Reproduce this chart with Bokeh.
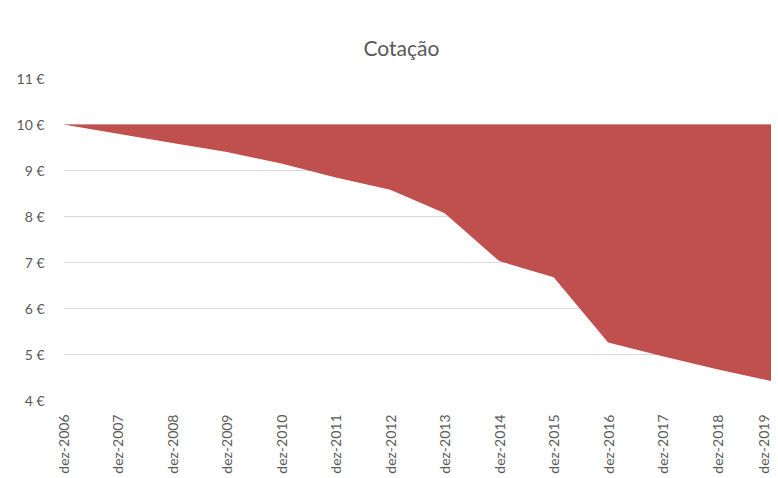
from bokeh.plotting import figure
from bokeh.models import Range1d, FixedTicker, BoxAnnotation
from bokeh.embed import file_html
from bokeh.resources import INLINE
import math

title = "Cotação"
categories = ["dez-2006", "dez-2007", "dez-2008", "dez-2009", "dez-2010", "dez-2011", "dez-2012",
              "dez-2013", "dez-2014", "dez-2015", "dez-2016", "dez-2017", "dez-2018", "dez-2019"]
cotacao = [10.0, 9.8, 9.6, 9.4, 9.15, 8.85, 8.58, 8.07, 7.03, 6.68, 5.26, 4.96, 4.68, 4.42]
axis_cross = 10  # horizontal axis crosses at 10 €
y_ticks = [4, 5, 6, 7, 8, 9, 10, 11]
y_labels = ["4 €", "5 €", "6 €", "7 €", "8 €", "9 €", "10 €", "11 €"]

xs = list(range(len(categories)))

p = figure(width=771, height=476, output_backend="svg", toolbar_location=None,
           x_range=Range1d(0, len(categories) - 1), y_range=Range1d(4, 11),
           min_border_left=63, min_border_right=0, min_border_top=78, min_border_bottom=71)

p.varea(x=xs, y1=cotacao, y2=[axis_cross] * len(xs), fill_color="#C0504D")

p.title.text = title
p.title.align = "left"
p.title.offset = 300
p.title.text_font = "Lato"
p.title.text_font_size = "21px"
p.title.text_font_style = "normal"
p.title.text_color = "#595959"
p.title.standoff = 38

p.outline_line_color = None
p.background_fill_color = "white"
p.border_fill_color = "white"

p.xgrid.grid_line_color = None
p.ygrid.grid_line_color = "#d9d9d9"
p.ygrid.grid_line_width = 1
p.ygrid.level = "underlay"

p.yaxis.ticker = FixedTicker(ticks=y_ticks)
p.yaxis.major_label_overrides = {t: l for t, l in zip(y_ticks, y_labels)}
p.xaxis.ticker = FixedTicker(ticks=xs)
p.xaxis.major_label_overrides = {x: c for x, c in zip(xs, categories)}
p.xaxis.major_label_orientation = math.pi / 2

for ax in (p.xaxis[0], p.yaxis[0]):
    ax.axis_line_color = None
    ax.major_tick_line_color = None
    ax.minor_tick_line_color = None
    ax.major_label_text_font = "Lato"
    ax.major_label_text_font_size = "14px"
    ax.major_label_text_color = "#595959"
p.xaxis.major_label_standoff = 8
p.yaxis.major_label_standoff = 13

# chart-area border (light gray), drawn in canvas pixels
border = BoxAnnotation(left=10, right=900, top=10, bottom=900,
                       left_units="canvas", right_units="canvas",
                       top_units="canvas", bottom_units="canvas",
                       fill_alpha=0, line_color="#d9d9d9", line_width=1.5,
                       level="overlay")
p.add_layout(border)

open("out.html", "w").write(file_html(p, INLINE))
